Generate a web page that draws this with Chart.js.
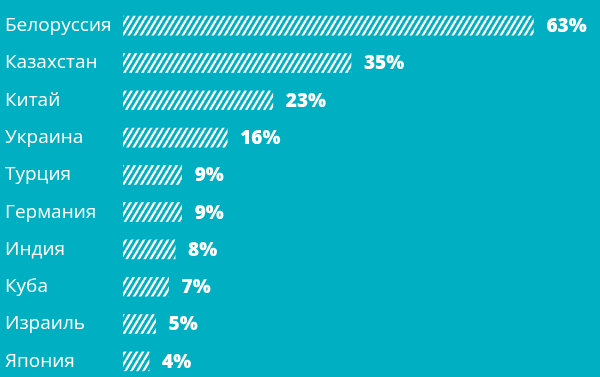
<!DOCTYPE html>
<html>
<head>
<meta charset="utf-8">
<script src="https://cdn.jsdelivr.net/npm/chart.js@4.4.1/dist/chart.umd.min.js"></script>
<style>
  html, body { margin: 0; padding: 0; background: #00AFC1; overflow: hidden; }
  #wrap { width: 600px; height: 380px; position: relative; }
</style>
</head>
<body>
<div id="wrap"><canvas id="chart"></canvas></div>
<script>
// DATA
var countries = ['Белоруссия', 'Казахстан', 'Китай', 'Украина', 'Турция', 'Германия', 'Индия', 'Куба', 'Израиль', 'Япония'];
var shares    = [63, 35, 23, 16, 9, 9, 8, 7, 5, 4];

// diagonal white stripes for the bars
function makeHatch(){
  var tile = document.createElement('canvas');
  tile.width = 6;
  tile.height = 10;
  var c = tile.getContext('2d');
  c.strokeStyle = '#ffffff';
  c.lineWidth = 2.3;
  for (var i = -1; i <= 1; i++) {
    c.beginPath();
    c.moveTo(i * 6, 10);
    c.lineTo(i * 6 + 6, 0);
    c.stroke();
  }
  return c.createPattern(tile, 'repeat');
}

// value labels at the end of the bars
var valueLabels = {
  id: 'valueLabels',
  afterDatasetsDraw: function(chart){
    var ctx = chart.ctx;
    var meta = chart.getDatasetMeta(0);
    ctx.save();
    ctx.fillStyle = '#ffffff';
    ctx.font = '800 19px "Open Sans"';
    ctx.textAlign = 'left';
    ctx.textBaseline = 'middle';
    meta.data.forEach(function(bar, i){
      ctx.fillText(shares[i] + '%', bar.x + 13, bar.y + 1);
    });
    ctx.restore();
  }
};

var ctx = document.getElementById('chart').getContext('2d');
var chart = new Chart(ctx, {
  type: 'bar',
  data: {
    labels: countries,
    datasets: [{
      data: shares,
      backgroundColor: makeHatch(),
      borderWidth: 0,
      barThickness: 19
    }]
  },
  options: {
    indexAxis: 'y',
    responsive: true,
    maintainAspectRatio: false,
    animation: false,
    layout: { padding: { left: 5, right: 8, top: 7, bottom: 0 } },
    plugins: {
      legend: { display: false },
      tooltip: { enabled: false }
    },
    scales: {
      x: {
        display: false,
        min: 0,
        max: 72
      },
      y: {
        grid: { display: false },
        border: { display: false },
        ticks: {
          color: '#ffffff',
          crossAlign: 'far',
          padding: 0,
          font: { family: '"Open Sans"', size: 19 }
        },
        afterFit: function(scale){
          scale.width = 118;
          scale.paddingTop = 0;
          scale.paddingBottom = 0;
        }
      }
    }
  },
  plugins: [valueLabels]
});
</script>
</body>
</html>
